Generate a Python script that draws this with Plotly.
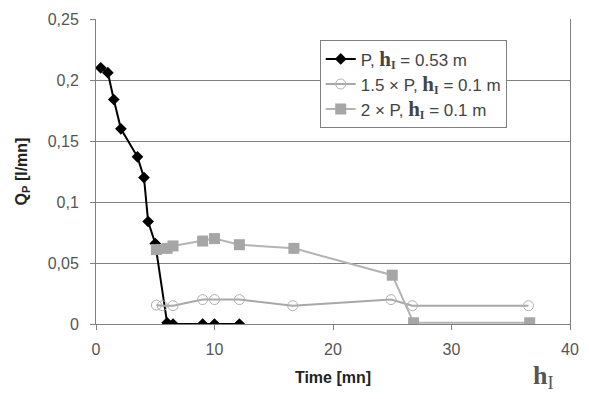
import plotly.graph_objects as go

# Series 1: P, h_I = 0.53 m
x1 = [0.4, 1.0, 1.5, 2.1, 3.5, 4.05, 4.4, 5.0, 6.0, 6.5, 9.0, 10.0, 12.1]
y1 = [0.210, 0.206, 0.184, 0.160, 0.137, 0.120, 0.084, 0.066, 0.001, 0.0, 0.0, 0.0, 0.0]
# Series 2: 1.5 x P, h_I = 0.1 m
x2 = [5.1, 5.6, 6.5, 9.0, 10.0, 12.1, 16.6, 24.9, 26.7, 36.5]
y2 = [0.0155, 0.015, 0.015, 0.020, 0.020, 0.020, 0.015, 0.020, 0.015, 0.015]
# Series 3: 2 x P, h_I = 0.1 m
x3 = [5.1, 6.0, 6.5, 9.0, 10.0, 12.1, 16.7, 25.0, 26.8, 36.6]
y3 = [0.061, 0.062, 0.064, 0.068, 0.070, 0.065, 0.062, 0.040, 0.001, 0.001]

hI = ("<span style='font-family:Liberation Serif;font-size:21px;font-weight:bold'>h</span>"
      "<sub><span style='font-family:Liberation Serif;font-weight:bold'>I</span></sub>")
names = ["P, " + hI + " = 0.53 m", "1.5 × P, " + hI + " = 0.1 m", "2 × P, " + hI + " = 0.1 m"]

fig = go.Figure()
fig.add_trace(go.Scatter(x=x1, y=y1, name=names[0], mode="lines+markers",
                         line=dict(color="black", width=2),
                         marker=dict(symbol="diamond", size=9, color="black")))
fig.add_trace(go.Scatter(x=x2, y=y2, name=names[1], mode="lines+markers",
                         line=dict(color="#a8a8a8", width=2),
                         marker=dict(symbol="circle-open", size=10, color="#b0b0b0", line=dict(width=1))))
fig.add_trace(go.Scatter(x=x3, y=y3, name=names[2], mode="lines+markers",
                         line=dict(color="#b4b4b4", width=2),
                         marker=dict(symbol="square", size=11, color="#a6a6a6")))

fig.update_layout(
    width=581, height=391,
    margin=dict(l=88, r=19, t=11, b=75),
    paper_bgcolor="white", plot_bgcolor="white",
    separators=",.",
    font=dict(family="Liberation Sans, Arial", color="#444444", size=16),
    showlegend=True,
    legend=dict(x=0.472, y=0.93, xanchor="left", yanchor="top",
                bgcolor="white", bordercolor="#808080", borderwidth=1,
                font=dict(size=17, color="#444444"), tracegroupgap=0,
                itemwidth=30),
    xaxis=dict(range=[0, 40], tickvals=[0, 10, 20, 30, 40], showgrid=False,
               showline=True, linecolor="#808080", linewidth=1,
               ticks="outside", ticklen=5, tickcolor="#808080",
               zeroline=False, automargin=False, ticklabelstandoff=6,
               tickfont=dict(size=16, color="#555555"),
               title=dict(text="<b>Time [mn]</b>", font=dict(size=16, color="#222222"), standoff=14)),
    yaxis=dict(range=[0, 0.25], tickvals=[0, 0.05, 0.1, 0.15, 0.2, 0.25],
               ticktext=["0", "0,05", "0,1", "0,15", "0,2", "0,25"],
               showgrid=True, gridcolor="#808080", gridwidth=1,
               showline=True, linecolor="#808080", linewidth=1, mirror=True,
               ticks="outside", ticklen=5, tickcolor="#808080", zeroline=False,
               automargin=False, ticklabelstandoff=8,
               tickfont=dict(size=16, color="#555555"),
               title=dict(text="<b>Q<sub>P</sub> [l/mn]</b>", font=dict(size=16, color="#222222"), standoff=16)),
)

fig.add_annotation(x=0.945, y=-0.175, xref="paper", yref="paper", xanchor="center", yanchor="middle",
                   text="<b>h</b><sub>I</sub>", showarrow=False,
                   font=dict(family="Liberation Serif", size=26, color="#555555"))

fig.write_html("out.html")
